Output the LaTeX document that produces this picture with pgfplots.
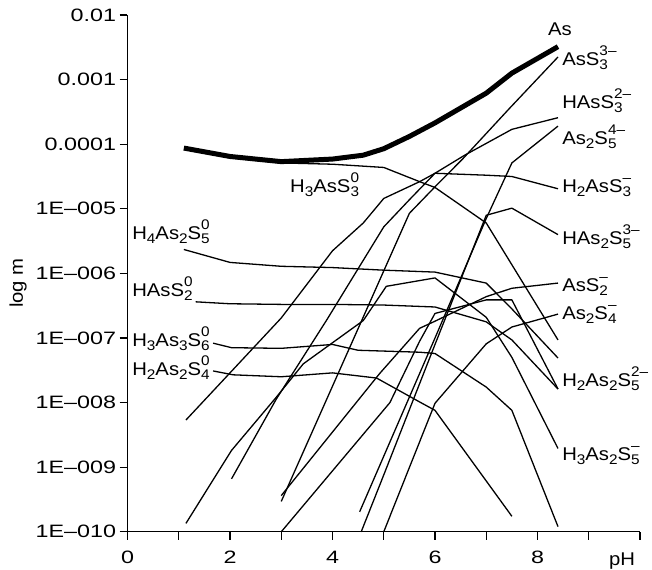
\documentclass[border=0pt]{standalone}
\usepackage{fontspec}
\setmainfont{Liberation Sans}
\newfontfamily\tickfamily{Liberation Sans}[FakeStretch=1.3]
\newfontfamily\labfamily{Liberation Sans}[FakeStretch=1.1]
\usepackage{pgfplots}
\pgfplotsset{compat=1.18}

\newcommand{\lf}{\labfamily\fontsize{18.5}{20}\selectfont}
\newcommand{\tf}{\tickfamily\fontsize{18}{20}\selectfont}
\newcommand{\dn}[1]{\raisebox{-4bp}{\fontsize{14}{15}\selectfont #1}}
\newcommand{\up}[1]{\raisebox{10bp}{\fontsize{14}{15}\selectfont #1}}
\newcommand{\du}[2]{{\setbox0\hbox{\dn{#1}}\setbox2\hbox{\up{#2}}%
  \ifdim\wd0>\wd2 \rlap{\box2}\box0\else\rlap{\box0}\box2\fi}}

\pgfplotsset{ln/.style={black, line width=1.3bp, line join=round, mark=none}}

\begin{document}
\begin{tikzpicture}
\useasboundingbox (-127.5bp,-38.2bp) rectangle (524.5bp,531.8bp);
\begin{axis}[
  at={(0,0)}, anchor=south west,
  scale only axis, width=512.5bp, height=516.8bp,
  xmin=0, xmax=10, ymin=-10, ymax=-2,
  axis x line=bottom, axis y line=left,
  axis line style={-, line width=1.2bp},
  xtick={0,2,4,6,8}, minor xtick={1,3,5,7,9,10},
  ytick={-10,-9,...,-2},
  yticklabels={1E–010,1E–009,1E–008,1E–007,1E–006,1E–005,0.0001,0.001,0.01},
  tick align=outside,
  major tick length=8bp, minor tick length=8bp,
  every tick/.style={black, line width=1.2bp},
  tick label style={font=\tf},
  xticklabel style={anchor=base, yshift=-24bp},
  /pgf/number format/assume math mode=true,
  clip=false,
]
% As (total)
\addplot[black, line width=5bp, line join=round] coordinates {(1.1,-4.06)(2,-4.19)(3,-4.27)(4,-4.23)(4.6,-4.17)(5,-4.07)(5.5,-3.88)(6,-3.67)(7,-3.21)(7.5,-2.9)(8.4,-2.49)};
% H3AsS3 0
\addplot[ln] coordinates {(1.1,-4.08)(2,-4.21)(3,-4.29)(4,-4.31)(5,-4.36)(5.7,-4.58)(6,-4.67)(7,-5.22)(8.4,-7.03)};
% H2AsS3 -
\addplot[ln] coordinates {(1.14,-8.27)(2,-7.54)(3,-6.69)(4,-5.65)(4.6,-5.22)(5,-4.84)(5.7,-4.58)(6,-4.45)(7,-4.48)(7.5,-4.5)(8.4,-4.69)};
% HAsS3 2-
\addplot[ln] coordinates {(2.03,-9.18)(2.9,-7.95)(3.88,-6.73)(5,-5.28)(5.5,-4.86)(6,-4.45)(6.58,-4.17)(7.5,-3.77)(8.4,-3.59)};
% AsS3 3-
\addplot[ln] coordinates {(3,-9.53)(5.5,-5.07)(6,-4.66)(6.55,-4.22)(7.46,-3.44)(8.4,-2.65)};
% H3As2S5 -
\addplot[ln] coordinates {(1.14,-9.87)(2.03,-8.74)(2.9,-7.92)(3.43,-7.4)(4.6,-6.73)(5.05,-6.2)(6,-6.07)(7,-6.68)(7.5,-7.3)(8.4,-8.71)};
% H2As2S5 2-
\addplot[ln] coordinates {(3,-10)(5.12,-8.0)(5.7,-7.05)(6,-6.62)(7,-6.41)(7.5,-6.41)(8.4,-7.79)};
% AsS2 -
\addplot[ln] coordinates {(3,-9.44)(4.92,-7.55)(5.7,-6.85)(6,-6.74)(7,-6.36)(7.5,-6.23)(8.4,-6.15)};
% As2S4 -
\addplot[ln] coordinates {(5,-10)(6,-8.01)(7,-7.09)(7.5,-6.83)(8.4,-6.63)};
% HAs2S5 3-
\addplot[ln] coordinates {(4.56,-10)(5,-9.12)(6,-7.1)(7,-5.1)(7.5,-4.99)(8.4,-5.4)};
% As2S5 4-
\addplot[ln] coordinates {(4.53,-9.69)(6,-7.0)(7,-5.15)(7.5,-4.29)(8.4,-3.72)};
% H4As2S5 0
\addplot[ln] coordinates {(1.1,-5.63)(2,-5.83)(3,-5.89)(4,-5.91)(5,-5.95)(6,-5.98)(7,-6.15)(7.5,-6.55)(8.4,-7.31)};
% HAsS2 0
\addplot[ln] coordinates {(1.33,-6.44)(2,-6.47)(3,-6.48)(4,-6.48)(5,-6.49)(6,-6.52)(7,-6.75)(7.5,-7.03)(8.4,-7.79)};
% H3As3S6 0
\addplot[ln] coordinates {(1.67,-7.08)(2.03,-7.15)(3,-7.16)(4,-7.1)(4.5,-7.19)(5.7,-7.22)(6,-7.24)(7,-7.76)(7.5,-8.12)(8.4,-9.92)};
% H2As2S4 0
\addplot[ln] coordinates {(1.67,-7.51)(2.06,-7.57)(3,-7.6)(4,-7.54)(4.86,-7.62)(5.7,-7.99)(6,-8.12)(7.5,-9.76)};

\begin{scope}[every node/.style={font=\lf, inner sep=0pt, anchor=base west}]
\node[anchor=base] at (axis cs:8.44,-2.31) {As};
\node at (axis cs:8.48,-2.775) {AsS\du{3}{3–}};
\node at (axis cs:8.48,-3.44) {HAsS\du{3}{2–}};
\node at (axis cs:8.48,-4.01) {As\dn{2}S\du{5}{4–}};
\node at (axis cs:8.48,-4.755) {H\dn{2}AsS\du{3}{–}};
\node at (axis cs:8.48,-5.56) {HAs\dn{2}S\du{5}{3–}};
\node at (axis cs:8.48,-6.283) {AsS\du{2}{–}};
\node at (axis cs:8.48,-6.721) {As\dn{2}S\du{4}{–}};
\node at (axis cs:8.48,-7.754) {H\dn{2}As\dn{2}S\du{5}{2–}};
\node at (axis cs:8.48,-8.889) {H\dn{3}As\dn{2}S\du{5}{–}};
\node at (axis cs:3.17,-4.755) {H\dn{3}AsS\du{3}{0}};
\node at (axis cs:0.09,-5.483) {H\dn{4}As\dn{2}S\du{5}{0}};
\node at (axis cs:0.09,-6.365) {HAsS\du{2}{0}};
\node at (axis cs:0.09,-7.124) {H\dn{3}As\dn{3}S\du{6}{0}};
\node at (axis cs:0.09,-7.573) {H\dn{2}As\dn{2}S\du{4}{0}};
\end{scope}
\node[font=\lf, anchor=base, inner sep=0pt] at (axis cs:9.65,-10) [yshift=-34bp] {pH};
\node[xshift=-109.5bp, font=\lf, rotate=90, inner sep=0pt] at (rel axis cs:0,0.4814) {log m};
\end{axis}
\end{tikzpicture}
\end{document}
